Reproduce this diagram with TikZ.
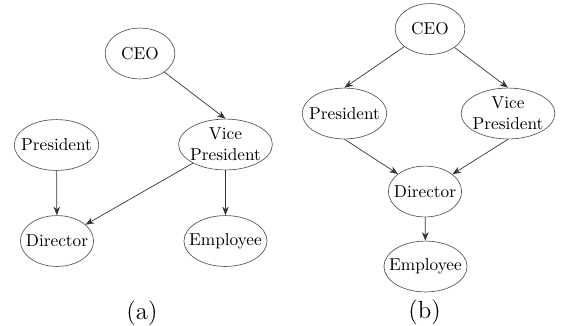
\documentclass[tikz,border=0pt]{standalone}
\usepackage{tikz}
\usetikzlibrary{shapes.geometric,arrows.meta}

\tikzset{
  entity/.style={draw=black!65,ellipse,inner ysep=0pt,minimum height=29.5pt,align=center},
  link/.style={draw=black!80,-{Stealth[length=5pt,width=3.8pt]}},
  caption/.style={font=\Large},
}

\begin{document}
\begin{tikzpicture}[x=0.58pt,y=-0.58pt]
%\draw[help lines] (0,0) grid (562,325);
\useasboundingbox (0,0) rectangle (562,325);

% (a)
\node[entity,inner xsep=3.4pt] (ceoA) at (140,53.5) {CEO};
\node[entity,inner xsep=-3.2pt] (presA) at (56.5,145) {President};
\node[entity,inner xsep=-1.3pt] (vpA) at (225.5,144.5) {Vice\\President};
\node[entity,inner xsep=-3pt] (dirA) at (57,241) {Director};
\node[entity,inner xsep=-4pt] (empA) at (225.5,241) {Employee};
\node[caption] (capA) at (142,313) {(a)};

\draw[link] (ceoA) -- (vpA.north);
\draw[link] (presA) -- (dirA);
\draw[link] (vpA) -- (dirA);
\draw[link] (vpA) -- (empA);

% (b)
\node[entity,inner xsep=3.4pt] (ceoB) at (430,29) {CEO};
\node[entity,inner xsep=-3.2pt] (presB) at (344.5,113.5) {President};
\node[entity,inner xsep=-1.3pt] (vpB) at (508,113.5) {Vice\\President};
\node[entity,inner xsep=-3pt] (dirB) at (425,191.5) {Director};
\node[entity,inner xsep=-4pt] (empB) at (425.5,266.5) {Employee};
\node[caption] (capB) at (424.5,312) {(b)};

\draw[link] (ceoB) -- (presB.north);
\draw[link] (ceoB) -- (vpB.north);
\draw[link] (presB.south) -- (dirB);
\draw[link] (vpB.south) -- (dirB);
\draw[link] (dirB) -- (empB);
\end{tikzpicture}
\end{document}
